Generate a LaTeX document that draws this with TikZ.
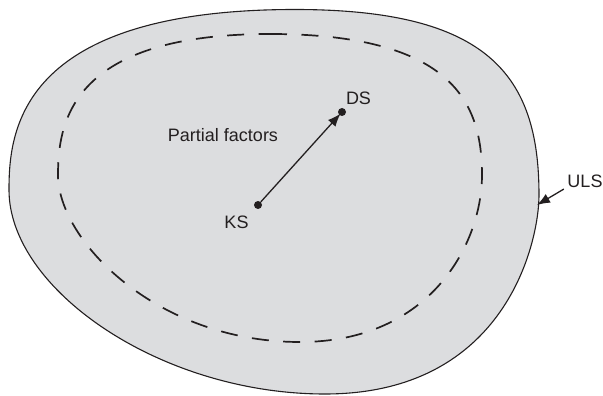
\documentclass[tikz,border=0pt]{standalone}
\usepackage{fontspec}
\setmainfont{Liberation Sans}
\usetikzlibrary{arrows.meta}
\definecolor{blobfill}{RGB}{220,221,223}
\definecolor{ink}{RGB}{35,31,32}
\begin{document}
\begin{tikzpicture}[x=1pt,y=-1pt,
  lbl/.style={font=\fontsize{18}{21}\selectfont, text=ink, inner sep=0pt, anchor=base},
  pt/.style={circle, fill=ink, inner sep=0pt, minimum size=8pt},
  arr/.style={draw=ink, line width=1.3pt, -{Latex[length=13pt,width=10pt]}},
  outline/.style={draw=ink, line width=1.1pt, fill=blobfill},
  dashline/.style={draw=ink, line width=1.7pt, dash pattern=on 17pt off 14.5pt}]
\useasboundingbox (0,0) rectangle (603,396);
% outer region (ULS)
\path[outline] (295,9.5)
  .. controls (488,9.5) and (539,75) .. (539,195)
  .. controls (539,242) and (506,394) .. (325,394)
  .. controls (160,394) and (9,289) .. (9,190)
  .. controls (9,132) and (18,9.5) .. (295,9.5) -- cycle;
% inner dashed region
\path[dashline] (270,34)
  .. controls (454,34) and (482,104) .. (482,175)
  .. controls (482,243) and (431,342) .. (300,342)
  .. controls (156,342) and (58,240) .. (58,175)
  .. controls (58,120) and (73,34) .. (270,34) -- cycle;
% points
\node[pt] (ks) at (258,205) {};
\node[pt] (ds) at (342,112) {};
\node[lbl] (kslbl) at (236.5,228) {KS};
\node[lbl] (dslbl) at (358.5,105) {DS};
\node[lbl] (pf) at (223,142) {Partial factors};
\node[lbl] (uls) at (585,187) {ULS};
\draw[arr, shorten >=-2pt] (ks) -- (ds);
\coordinate (ulsend) at (537,205);
\draw[arr, shorten <=4pt] (uls.base west) -- (ulsend);
\end{tikzpicture}
\end{document}
